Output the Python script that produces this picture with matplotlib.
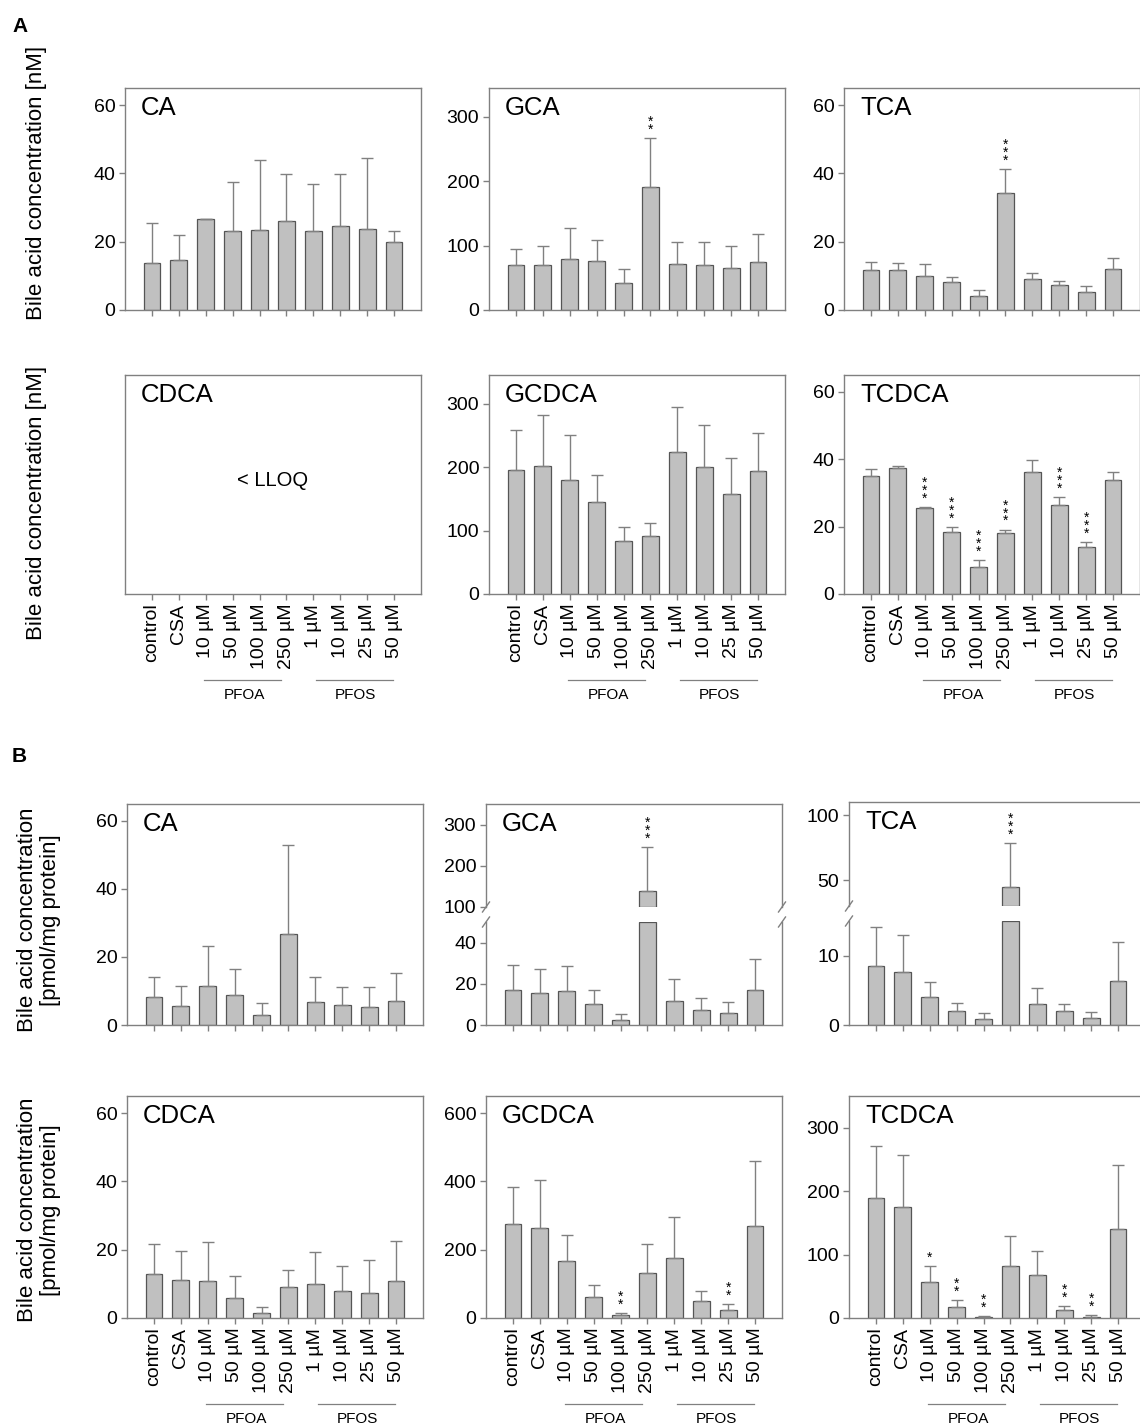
import matplotlib
matplotlib.use('Agg')
import matplotlib.pyplot as plt
import matplotlib.transforms as mtransforms
import numpy as np

plt.rcParams['font.family'] = ['Liberation Sans', 'DejaVu Sans']

W, H = 1140, 1427

groups = ['control', 'CSA', '10 µM', '50 µM', '100 µM', '250 µM',
          '1 µM', '10 µM', '25 µM', '50 µM']
x = np.arange(1, len(groups) + 1)

# A: medium (nM), mean and upper SD
a_ca = [13.7, 14.6, 26.6, 23.1, 23.5, 26.0, 23.2, 24.7, 23.7, 20.0]
a_ca_sd = [11.9, 7.5, 0.0, 14.3, 20.4, 13.8, 13.6, 15.2, 20.7, 3.1]
a_gca = [69.7, 69.2, 79.6, 75.4, 42.6, 191.4, 71.8, 69.7, 66.0, 74.4]
a_gca_sd = [24.9, 30.1, 47.8, 33.8, 20.8, 76.4, 33.2, 35.9, 32.8, 43.6]
a_gca_sig = ['', '', '', '', '', '**', '', '', '', '']
a_tca = [11.7, 11.8, 10.0, 8.2, 4.1, 34.3, 9.2, 7.2, 5.4, 12.1]
a_tca_sd = [2.5, 2.1, 3.5, 1.5, 1.8, 6.9, 1.6, 1.3, 1.5, 3.0]
a_tca_sig = ['', '', '', '', '', '***', '', '', '', '']
a_gcdca = [195.8, 202.0, 180.2, 144.8, 83.9, 90.6, 224.0, 200.5, 157.8, 193.8]
a_gcdca_sd = [62.5, 80.3, 69.8, 42.7, 22.4, 21.4, 70.3, 65.5, 55.7, 59.8]
a_tcdca = [35.0, 37.5, 25.6, 18.3, 8.0, 18.0, 36.2, 26.4, 14.0, 33.9]
a_tcdca_sd = [2.2, 0.5, 0.3, 1.5, 2.0, 1.1, 3.7, 2.3, 1.4, 2.3]
a_tcdca_sig = ['', '', '***', '***', '***', '***', '', '***', '***', '']

# B: cells (pmol/mg protein)
b_ca = [8.1, 5.6, 11.4, 8.7, 2.8, 26.8, 6.7, 5.9, 5.4, 7.2]
b_ca_sd = [6.1, 5.8, 11.7, 7.8, 3.8, 26.1, 7.4, 5.3, 5.8, 8.1]
b_gca = [16.9, 15.6, 16.5, 10.4, 2.6, 140.0, 11.7, 7.2, 5.6, 17.0]
b_gca_sd = [12.0, 11.7, 12.2, 6.8, 2.9, 106.0, 10.6, 6.1, 5.5, 15.1]
b_gca_sig = ['', '', '', '', '', '***', '', '', '', '']
b_tca = [8.5, 7.6, 4.0, 2.0, 0.9, 44.9, 3.0, 2.0, 1.0, 6.4]
b_tca_sd = [5.7, 5.4, 2.2, 1.2, 0.9, 33.8, 2.3, 1.1, 0.9, 5.6]
b_tca_sig = ['', '', '', '', '', '***', '', '', '', '']
b_cdca = [12.8, 11.1, 10.9, 6.0, 1.6, 9.2, 10.0, 7.8, 7.4, 10.9]
b_cdca_sd = [8.9, 8.6, 11.3, 6.2, 1.5, 5.0, 9.2, 7.5, 9.7, 11.6]
b_gcdca = [276, 263, 166, 62, 8, 131, 177, 49, 22, 268]
b_gcdca_sd = [109, 140, 77, 36, 7, 87, 119, 29, 19, 193]
b_gcdca_sig = ['', '', '', '', '**', '', '', '', '**', '']
b_tcdca = [189.5, 175.3, 56.3, 17.4, 2.1, 82.0, 67.4, 12.1, 1.6, 140.5]
b_tcdca_sd = [82.1, 81.5, 25.3, 11.0, 1.1, 47.5, 38.9, 6.3, 2.6, 100.0]
b_tcdca_sig = ['', '', '*', '**', '**', '', '', '**', '**', '']

BAR = '#c0c0c0'
EDGE = '#555555'
GREY = '#808080'
TICK_FS = 14

fig = plt.figure(figsize=(W / 100, H / 100), dpi=100)


def px_box(l, t, r, b):
    return [l / W, 1 - b / H, (r - l) / W, (b - t) / H]


def style(ax, ylim, yticks, spines=('left', 'right', 'top', 'bottom'), xlabels=False):
    ax.set_xlim(0, 11)
    ax.set_ylim(*ylim)
    ax.set_yticks(yticks)
    for s in ax.spines:
        ax.spines[s].set_visible(s in spines)
        ax.spines[s].set_color(GREY)
        ax.spines[s].set_linewidth(1.0)
    ax.tick_params(direction='out', length=4, width=1, color=GREY,
                   labelsize=TICK_FS, pad=3)
    ax.set_xticks(x)
    if xlabels:
        ax.set_xticklabels(groups, rotation=90, fontsize=TICK_FS)
    else:
        ax.set_xticklabels([])
    if 'bottom' not in spines:
        ax.tick_params(axis='x', bottom=False)


def draw_bars(ax, mean, sd, lo=0.0, hi=None):
    mean = np.asarray(mean, dtype=float)
    top = mean if hi is None else np.minimum(mean, hi)
    show = mean > lo
    ax.bar(x[show], (top - lo)[show], bottom=lo, width=0.62, color=BAR,
           edgecolor=EDGE, linewidth=0.9, zorder=2)
    ax.errorbar(x, mean, yerr=[np.zeros(len(sd)), sd], fmt='none', ecolor=GREY,
                elinewidth=1, capsize=4, capthick=1, zorder=3)


def add_stars(ax, mean, sd, sig):
    for xi, m, s, st in zip(x, mean, sd, sig):
        if st:
            ax.annotate('\n'.join(st), xy=(xi, m + s), xytext=(0, 1),
                        textcoords='offset points', ha='center', va='bottom',
                        fontsize=10, linespacing=0.45, annotation_clip=False)


def add_title(ax, title):
    tr = mtransforms.offset_copy(ax.transAxes, fig=fig, x=16, y=-8, units='dots')
    ax.text(0, 1, title, transform=tr, ha='left', va='top', fontsize=18.5)


def add_groups(ax):
    base = mtransforms.blended_transform_factory(ax.transData, ax.transAxes)
    line_tr = mtransforms.offset_copy(base, fig=fig, x=0, y=-86, units='dots')
    text_tr = mtransforms.offset_copy(base, fig=fig, x=0, y=-101, units='dots')
    for (x0, x1, xc, name) in [(2.95, 5.8, 4.45, 'PFOA'), (7.1, 9.95, 8.55, 'PFOS')]:
        ax.plot([x0, x1], [0, 0], transform=line_tr, color=GREY, lw=0.9, clip_on=False)
        ax.text(xc, 0, name, transform=text_tr, ha='center', va='center', fontsize=11)


def break_marks(ax, y):
    bw = ax.get_position().width * W
    bh = ax.get_position().height * H
    dx, dy = 3.5 / bw, 5 / bh
    for xe in (0, 1):
        ax.plot([xe - dx, xe + dx], [y - dy, y + dy], transform=ax.transAxes,
                color=GREY, lw=1, clip_on=False)


def simple_panel(box, title, mean, sd, ylim, yticks, sig=None, xlabels=False):
    ax = fig.add_axes(px_box(*box))
    style(ax, ylim, yticks, xlabels=xlabels)
    draw_bars(ax, mean, sd)
    if sig:
        add_stars(ax, mean, sd, sig)
    add_title(ax, title)
    if xlabels:
        add_groups(ax)
    return ax


def broken_panel(l, r, up_tb, lo_tb, title, mean, sd, up_lim, up_ticks,
                 lo_lim, lo_ticks, sig):
    ax_up = fig.add_axes(px_box(l, up_tb[0], r, up_tb[1]))
    ax_lo = fig.add_axes(px_box(l, lo_tb[0], r, lo_tb[1]))
    style(ax_up, up_lim, up_ticks, spines=('left', 'right', 'top'))
    style(ax_lo, lo_lim, lo_ticks, spines=('left', 'right', 'bottom'))
    draw_bars(ax_up, mean, sd, lo=up_lim[0])
    draw_bars(ax_lo, mean, sd, hi=lo_lim[1])
    add_stars(ax_up, mean, sd, sig)
    add_title(ax_up, title)
    break_marks(ax_up, 0)
    break_marks(ax_lo, 1)


colA = [(125, 421), (489, 785), (844, 1140)]
colB = [(127, 423), (486, 782), (849, 1145)]
rowA1, rowA2 = (88, 310), (375, 594)
rowB1, rowB2 = (804, 1025), (1096, 1318)

# ---- A, upper row
simple_panel((colA[0][0], rowA1[0], colA[0][1], rowA1[1]), 'CA', a_ca, a_ca_sd,
             (0, 65), [0, 20, 40, 60])
simple_panel((colA[1][0], rowA1[0], colA[1][1], rowA1[1]), 'GCA', a_gca, a_gca_sd,
             (0, 345), [0, 100, 200, 300], a_gca_sig)
simple_panel((colA[2][0], rowA1[0], colA[2][1], rowA1[1]), 'TCA', a_tca, a_tca_sd,
             (0, 65), [0, 20, 40, 60], a_tca_sig)

# ---- A, lower row
ax = fig.add_axes(px_box(colA[0][0], rowA2[0], colA[0][1], rowA2[1]))
style(ax, (0, 65), [], xlabels=True)
add_title(ax, 'CDCA')
add_groups(ax)
ax.text(0.5, 0.52, '< LLOQ', transform=ax.transAxes, ha='center', va='center',
        fontsize=14.5)
simple_panel((colA[1][0], rowA2[0], colA[1][1], rowA2[1]), 'GCDCA', a_gcdca, a_gcdca_sd,
             (0, 345), [0, 100, 200, 300], xlabels=True)
simple_panel((colA[2][0], rowA2[0], colA[2][1], rowA2[1]), 'TCDCA', a_tcdca, a_tcdca_sd,
             (0, 65), [0, 20, 40, 60], a_tcdca_sig, xlabels=True)

# ---- B, upper row
simple_panel((colB[0][0], rowB1[0], colB[0][1], rowB1[1]), 'CA', b_ca, b_ca_sd,
             (0, 65), [0, 20, 40, 60])
broken_panel(colB[1][0], colB[1][1], (804, 907), (922, 1025), 'GCA', b_gca, b_gca_sd,
             (100, 350), [100, 200, 300], (0, 50), [0, 20, 40], b_gca_sig)
broken_panel(colB[2][0], colB[2][1], (802, 906), (921, 1025), 'TCA', b_tca, b_tca_sd,
             (30, 110), [50, 100], (0, 15), [0, 10], b_tca_sig)

# ---- B, lower row
simple_panel((colB[0][0], rowB2[0], colB[0][1], rowB2[1]), 'CDCA', b_cdca, b_cdca_sd,
             (0, 65), [0, 20, 40, 60], xlabels=True)
simple_panel((colB[1][0], rowB2[0], colB[1][1], rowB2[1]), 'GCDCA', b_gcdca, b_gcdca_sd,
             (0, 650), [0, 200, 400, 600], b_gcdca_sig, xlabels=True)
simple_panel((colB[2][0], rowB2[0], colB[2][1], rowB2[1]), 'TCDCA', b_tcdca, b_tcdca_sd,
             (0, 350), [0, 100, 200, 300], b_tcdca_sig, xlabels=True)

# axis labels and panel letters
fig.text(37 / W, 1 - 183 / H, 'Bile acid concentration [nM]', rotation=90,
         ha='center', va='center', fontsize=16)
fig.text(37 / W, 1 - 503 / H, 'Bile acid concentration [nM]', rotation=90,
         ha='center', va='center', fontsize=16)
for yc in (920, 1210):
    fig.text(39 / W, 1 - yc / H, 'Bile acid concentration\n[pmol/mg protein]',
             rotation=90, ha='center', va='center', fontsize=16,
             multialignment='center', linespacing=1.15)
fig.text(12 / W, 1 - 26 / H, 'A', fontsize=15, fontweight='bold', va='center')
fig.text(12 / W, 1 - 757 / H, 'B', fontsize=15, fontweight='bold', va='center')

fig.savefig('out.png', dpi=100)
